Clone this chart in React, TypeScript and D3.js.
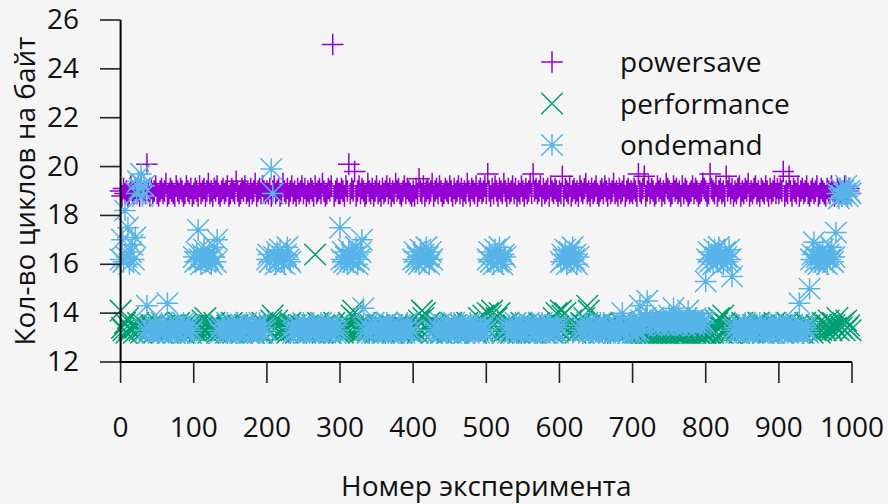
import React, { useEffect, useRef } from 'react';
import * as d3 from 'd3';

// cycles per byte x10, one value per even experiment number;
// every string holds one block of 100 experiments (0-98, 100-198, ...)
const powersave = [
  '190 188 191 189 190 188 189 192 190 189 191 189 190 188 192 189 190 189 201 190 188 191 189 190 192 189 188 190 191 189 190 193 188 189 191 190 189 188 192 190 189 191 190 188 189 192 190 189 191 188',
  '189 191 190 188 192 189 190 191 188 190 193 189 190 188 191 190 192 189 188 190 191 189 190 192 188 189 191 190 189 194 190 188 189 191 190 192 189 190 188 191 189 190 193 188 190 191 189 192 190 189',
  '190 189 191 188 190 192 189 190 191 188 189 193 190 189 191 188 190 192 189 190 188 191 189 190 192 189 191 188 190 189 191 190 188 192 189 190 191 189 193 190 188 189 191 190 192 250 188 190 191 189',
  '189 191 190 188 192 190 201 189 191 190 198 188 190 192 189 191 190 188 189 193 190 189 191 188 190 192 189 190 188 191 189 190 192 189 191 188 190 189 193 190 191 189 188 190 192 189 191 190 189 188',
  '190 188 191 189 195 190 189 192 188 190 191 189 190 193 188 190 191 189 192 190 188 189 191 190 189 192 190 188 191 189 190 192 189 191 188 190 189 193 190 188 191 190 189 192 188 190 191 189 190 192',
  '189 197 190 188 191 189 192 190 188 191 190 189 193 190 188 191 189 190 192 189 191 188 190 189 192 190 188 191 189 190 193 189 197 190 191 189 190 192 188 191 189 190 191 188 192 190 189 191 190 188',
  '190 189 196 188 191 190 189 192 188 190 191 189 190 188 192 190 189 191 193 189 190 188 191 189 190 192 189 188 190 191 189 192 190 188 191 189 190 193 189 190 188 191 189 190 192 188 190 191 189 190',
  '189 191 190 188 197 190 189 191 196 188 190 192 189 191 190 188 189 192 190 191 188 190 189 193 191 190 188 189 192 190 191 189 190 188 192 189 191 190 188 189 190 192 189 191 190 188 189 190 193 191',
  '190 188 189 197 191 190 189 192 188 190 191 189 190 188 196 190 192 189 191 188 190 189 191 192 188 190 189 191 190 193 188 190 189 191 192 189 190 188 191 190 189 192 190 188 191 189 190 192 189 191',
  '189 191 190 198 188 190 189 196 190 188 191 190 189 192 188 190 191 189 190 192 189 188 190 191 189 190 192 188 189 191 190 189 188 191 190 189 192 190 188 189 191 190 189 188 190 192 189 190 191 189',
];

const performance = [
  '141 134 133 136 132 138 134 133 135 132 134 133 136 133 132 134 135 133 134 132 133 135 134 132 133 136 134 133 132 134 135 133 132 134 133 135 134 132 133 134 136 133 134 132 135 133 134 133 132 135',
  '133 135 134 132 133 134 137 133 138 134 132 135 133 134 136 133 132 134 135 133 134 133 132 135 134 133 136 132 134 133 135 134 133 132 134 135 133 134 132 133 134 132 135 133 134 133 132 136 134 133',
  '134 133 135 137 139 133 134 137 135 132 133 134 135 133 132 134 136 133 134 135 132 133 134 135 133 134 132 133 135 134 133 135 132 164 133 136 134 133 132 135 134 133 135 132 134 133 136 134 133 132',
  '133 134 132 135 134 133 136 133 139 141 138 134 133 132 135 134 133 136 134 132 133 135 134 133 132 134 135 133 134 133 132 134 136 133 134 135 132 133 134 135 133 134 132 135 133 134 136 133 134 132',
  '134 133 135 132 137 133 141 138 140 134 133 136 134 132 135 133 134 135 133 132 134 133 135 134 132 133 136 134 133 135 132 134 133 135 134 132 133 136 134 133 135 133 134 132 133 138 134 133 139 135',
  '134 140 133 139 141 135 133 138 134 140 133 132 135 134 133 136 134 132 133 135 134 133 132 134 136 133 135 134 132 133 134 135 133 132 134 133 136 134 133 135 132 134 133 135 134 132 138 133 140 134',
  '133 141 139 134 140 135 133 134 137 133 134 132 135 133 134 136 133 138 134 143 141 135 133 132 134 133 135 134 132 136 133 134 133 135 132 134 133 135 134 133 132 134 136 133 135 133 134 132 133 134',
  '133 134 132 133 132 133 132 132 133 132 132 133 132 132 133 132 132 133 132 132 133 132 132 133 132 132 133 132 132 133 132 132 133 132 132 133 132 132 132 133 132 133 132 132 133 132 132 133 132 132',
  '132 133 132 132 133 132 133 137 136 138 134 132 139 136 133 135 134 132 133 134 135 133 134 132 133 136 134 133 135 132 134 133 132 135 134 133 136 134 133 132 135 134 133 132 134 133 135 136 133 134',
  '134 133 135 132 134 133 136 134 133 135 132 134 133 135 134 133 132 134 136 133 134 135 133 132 134 133 135 134 132 133 136 134 133 135 137 134 133 136 135 134 138 133 135 134 136 133 137 134 135 133',
];

const ondemand = [
  '162 170 161 182 163 175 160 165 168 162 171 189 194 191 197 188 192 133 143 132 134 133 132 135 133 134 132 133 136 132 134 133 144 132 135 133 134 132 133 135 132 134 133 136 132 133 135 134 132 133',
  '163 161 165 174 162 160 164 166 161 163 162 165 160 163 167 161 170 133 132 135 133 134 132 136 133 132 134 133 135 132 134 133 132 135 134 133 136 132 133 134 132 135 133 134 132 136 133 132 134 133',
  '162 164 161 199 189 163 160 165 162 166 161 163 160 164 167 162 161 134 132 133 135 133 132 134 133 136 132 133 134 132 133 135 134 132 133 134 132 136 133 134 132 133 135 134 132 133 134 132 135 133',
  '175 162 165 161 163 160 166 162 164 161 163 167 160 162 165 170 142 133 135 132 134 133 132 136 133 134 132 135 133 132 134 133 136 132 134 133 135 132 133 134 132 135 133 134 132 133 136 134 132 133',
  '162 165 161 163 160 166 162 164 161 167 163 160 165 162 133 135 132 134 133 136 132 133 134 132 135 133 132 134 136 133 134 132 133 135 134 132 133 134 132 136 133 134 132 133 135 132 134 133 132 135',
  '133 162 165 161 164 160 166 163 161 167 162 160 164 163 134 132 135 133 134 132 136 133 134 132 133 135 132 134 133 136 132 133 134 135 132 133 134 132 136 133 134 132 133 135 133 134 132 133 135 132',
  '134 161 164 162 166 160 163 165 161 167 162 164 160 163 133 135 132 134 133 136 132 134 133 132 135 133 134 132 136 133 134 132 135 133 132 134 133 136 132 133 135 132 134 140 132 135 134 133 136 135',
  '132 134 133 132 133 143 137 135 136 138 145 136 137 135 138 136 137 136 135 137 136 138 135 137 136 139 137 135 142 136 137 135 138 136 137 136 135 138 141 136 137 136 135 138 136 137 135 136 137 136',
  '153 162 165 161 164 160 166 163 161 167 162 164 160 165 163 161 166 162 155 133 134 132 133 135 133 134 132 136 133 132 134 133 135 132 134 133 132 136 134 133 132 135 133 134 132 133 134 132 135 133',
  '133 135 132 134 133 136 132 134 133 135 132 134 133 132 144 133 135 132 134 133 132 150 162 164 169 161 163 160 165 162 166 161 163 160 164 162 167 161 163 173 189 187 191 188 190 189 192 188 190 189',
];

const seriesNames = ['powersave', 'performance', 'ondemand'];
const seriesColors = ['#9400d3', '#009e73', '#56b4e9'];
const seriesMarks = ['plus', 'cross', 'star'];
const xTicks = [0, 100, 200, 300, 400, 500, 600, 700, 800, 900, 1000];
const yTicks = [12, 14, 16, 18, 20, 22, 24, 26];
const xTitle = 'Номер эксперимента';
const yTitle = 'Кол-во циклов на байт';

function toPoints(blocks) {
  const pts = [];
  blocks.forEach((line, k) => {
    line.trim().split(/\s+/).forEach((v, j) => pts.push([k * 100 + j * 2, +v / 10]));
  });
  return pts;
}

function markPath(kind, x, y, s) {
  const plus = `M${x - s},${y}H${x + s}M${x},${y - s}V${y + s}`;
  const cross = `M${x - s},${y - s}L${x + s},${y + s}M${x - s},${y + s}L${x + s},${y - s}`;
  if (kind === 'plus') return plus;
  if (kind === 'cross') return cross;
  return plus + cross;
}

export default function App() {
  const ref = useRef(null);

  useEffect(() => {
    const width = 888;
    const height = 504;
    const left = 120.6;
    const right = 852;
    const top = 20;
    const bottom = 362;
    const size = 10.8;
    const font = "'Open Sans', 'Noto Sans', sans-serif";

    const svg = d3.select(ref.current);
    svg.selectAll('*').remove();

    svg.append('rect').attr('width', width).attr('height', height).attr('fill', '#f5f5f5');

    const x = d3.scaleLinear().domain([0, 1000]).range([left, right]);
    const y = d3.scaleLinear().domain([12, 26]).range([bottom, top]);

    const data = [powersave, performance, ondemand].map(toPoints);

    // points, drawn in gnuplot order so ondemand ends on top
    data.forEach((pts, i) => {
      svg
        .append('path')
        .attr('fill', 'none')
        .attr('stroke', seriesColors[i])
        .attr('stroke-width', 1.5)
        .attr('d', pts.map(([a, b]) => markPath(seriesMarks[i], x(a), y(b), size)).join(''));
    });

    const text = (px, py, str, anchor, rotate = 0) =>
      svg
        .append('text')
        .attr('x', px)
        .attr('y', py)
        .attr('transform', rotate ? `rotate(${rotate},${px},${py})` : null)
        .attr('text-anchor', anchor)
        .attr('font-family', font)
        .attr('font-size', 28)
        .attr('fill', '#111')
        .text(str);

    // y ticks, outward
    yTicks.forEach((t) => {
      svg
        .append('line')
        .attr('x1', left - 20.6)
        .attr('x2', left)
        .attr('y1', y(t))
        .attr('y2', y(t))
        .attr('stroke', '#222')
        .attr('stroke-width', 1.6);
      text(79, y(t) + 9, String(t), 'end');
    });

    xTicks.forEach((t) => {
      svg
        .append('line')
        .attr('x1', x(t))
        .attr('x2', x(t))
        .attr('y1', bottom)
        .attr('y2', bottom + 21)
        .attr('stroke', '#222')
        .attr('stroke-width', 1.6);
      text(x(t), 437, String(t), 'middle');
    });

    // border: left and bottom
    svg
      .append('path')
      .attr('fill', 'none')
      .attr('stroke', '#000')
      .attr('stroke-width', 2)
      .attr('d', `M${left},${top}V${bottom}H${right}`);

    text((left + right) / 2, 496, xTitle, 'middle');
    text(35, (top + bottom) / 2, yTitle, 'middle', -90);

    // legend
    seriesNames.forEach((name, i) => {
      const ly = 62 + i * 41.5;
      svg
        .append('path')
        .attr('fill', 'none')
        .attr('stroke', seriesColors[i])
        .attr('stroke-width', 1.5)
        .attr('d', markPath(seriesMarks[i], 552, ly, size));
      text(620, ly + 10, name, 'start');
    });
  }, []);

  return (
    <svg
      ref={ref}
      width={888}
      height={504}
      style={{ position: 'absolute', left: 0, top: 0, display: 'block' }}
    />
  );
}
